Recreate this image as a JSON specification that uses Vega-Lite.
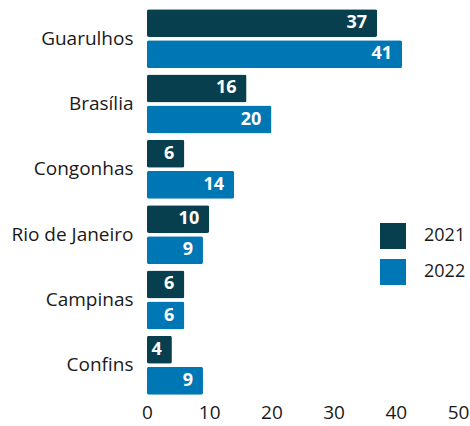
{
  "$schema": "https://vega.github.io/schema/vega-lite/v6.json",
  "autosize": {"type": "none"},
  "padding": {"left": 147, "top": 6, "right": 12, "bottom": 28},
  "width": 311,
  "height": 392,
  "background": "white",
  "config": {"view": {"stroke": null}, "font": "Open Sans"},
  "data": {"values": [
    {"airport": "Guarulhos", "year": "2021", "value": 37},
    {"airport": "Guarulhos", "year": "2022", "value": 41},
    {"airport": "Brasília", "year": "2021", "value": 16},
    {"airport": "Brasília", "year": "2022", "value": 20},
    {"airport": "Congonhas", "year": "2021", "value": 6},
    {"airport": "Congonhas", "year": "2022", "value": 14},
    {"airport": "Rio de Janeiro", "year": "2021", "value": 10},
    {"airport": "Rio de Janeiro", "year": "2022", "value": 9},
    {"airport": "Campinas", "year": "2021", "value": 6},
    {"airport": "Campinas", "year": "2022", "value": 6},
    {"airport": "Confins", "year": "2021", "value": 4},
    {"airport": "Confins", "year": "2022", "value": 9}
  ]},
  "encoding": {
    "y": {"field": "airport", "type": "nominal", "sort": null,
      "scale": {"paddingInner": 0.098, "paddingOuter": 0.049},
      "axis": {"title": null, "domain": false, "ticks": false, "labelFontSize": 19, "labelColor": "#1a1a1a", "labelPadding": 14, "labelFont": "Open Sans"}},
    "yOffset": {"field": "year", "type": "nominal", "scale": {"paddingInner": 0.1}},
    "x": {"field": "value", "type": "quantitative", "scale": {"domain": [0, 50], "nice": false},
      "axis": {"title": null, "domain": false, "ticks": false, "grid": false, "values": [0,10,20,30,40,50], "labelFontSize": 19, "labelColor": "#1a1a1a", "labelPadding": 5, "labelFont": "Open Sans", "labelFlush": false}}
  },
  "layer": [
    {
      "mark": {"type": "bar", "cornerRadius": 2},
      "encoding": {
        "color": {"field": "year", "type": "nominal",
          "scale": {"domain": ["2021", "2022"], "range": ["#083f4f", "#0077b5"]},
          "legend": {"title": null, "orient": "none", "legendX": 233, "legendY": 217, "symbolType": "square", "symbolSize": 676, "symbolStrokeWidth": 0, "labelFontSize": 18, "labelColor": "#1a1a1a", "labelFont": "Open Sans", "rowPadding": 10, "labelOffset": 18}}
      }
    },
    {
      "mark": {"type": "text", "align": "right", "dx": -10, "color": "white", "fontWeight": "bold", "fontSize": 18, "font": "Open Sans", "baseline": "middle"},
      "encoding": {"text": {"field": "value", "type": "quantitative"}}
    }
  ]
}
